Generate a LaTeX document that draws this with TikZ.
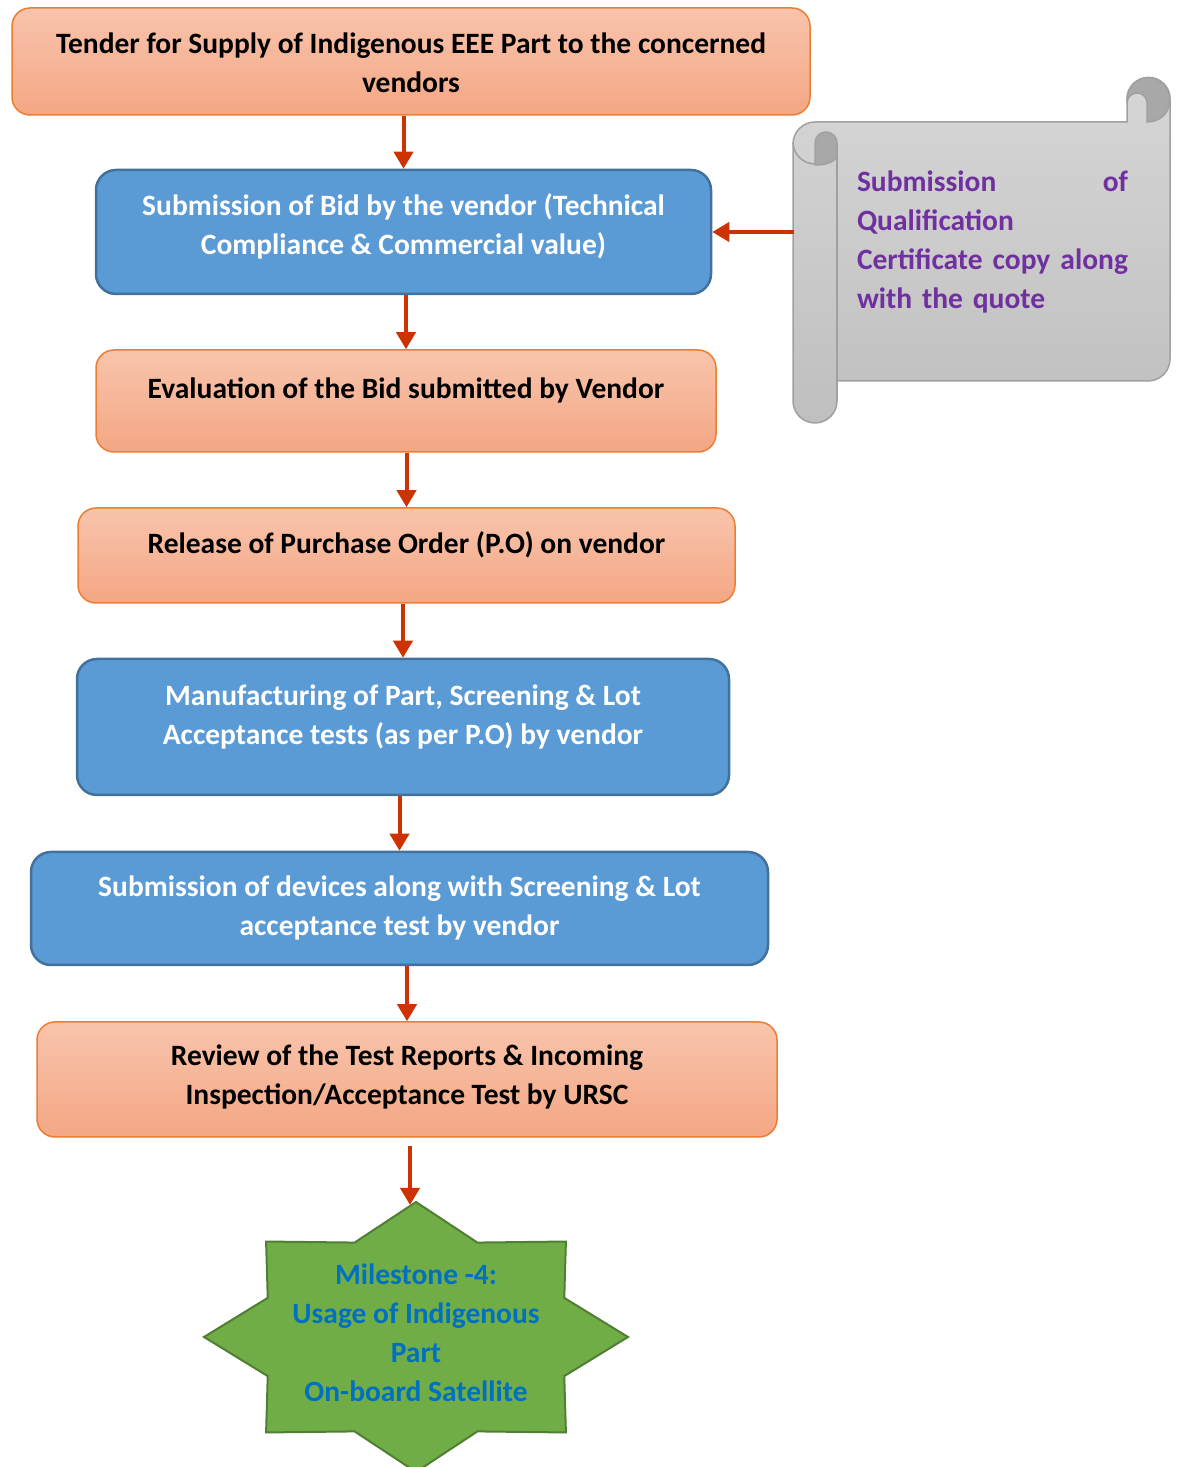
\documentclass[tikz,border=0pt]{standalone}
\usepackage{fontspec}
\setmainfont{Carlito}
\usetikzlibrary{arrows.meta}

\definecolor{orangetop}{RGB}{248,196,172}
\definecolor{orangebot}{RGB}{244,167,132}
\definecolor{orangeline}{RGB}{237,125,49}
\definecolor{bluefill}{RGB}{91,155,213}
\definecolor{blueline}{RGB}{65,113,156}
\definecolor{arrowred}{RGB}{204,51,0}
\definecolor{scrolltop}{RGB}{214,214,214}
\definecolor{scrollbot}{RGB}{191,191,191}
\definecolor{scrolldark}{RGB}{168,168,168}
\definecolor{scrollline}{RGB}{160,160,160}
\definecolor{qualpurple}{RGB}{112,48,160}
\definecolor{starfill}{RGB}{112,173,71}
\definecolor{starline}{RGB}{80,126,50}
\definecolor{starblue}{RGB}{0,112,192}

\tikzset{
  orangebox/.style={draw=orangeline, line width=1.5pt, rounded corners=18pt, top color=orangetop, bottom color=orangebot},
  bluebox/.style={draw=blueline, line width=2.5pt, rounded corners=20pt, fill=bluefill},
  boxtext/.style={align=center, font=\fontsize{29.5}{39}\selectfont\bfseries},
  flowarrow/.style={draw=arrowred, line width=4pt, -{Triangle[length=17pt,width=19pt]}},
  scrollpart/.style={draw=scrollline, line width=1.5pt},
}

\begin{document}
\begin{tikzpicture}[x=1pt,y=1pt]
\useasboundingbox (0,0) rectangle (1176,1467);

% Flow boxes
\node[orangebox, minimum width=798pt, minimum height=107pt] (tender) at (411,1405.5) {};
\node[boxtext] (tendertext) at (411,1404.5) {Tender for Supply of Indigenous EEE Part to the concerned\\vendors};

\node[bluebox, minimum width=615pt, minimum height=124pt] (bid) at (403.5,1235) {};
\node[boxtext, text=white] (bidtext) at (403.5,1241) {Submission of Bid by the vendor (Technical\\Compliance \& Commercial value)};

\node[orangebox, minimum width=620pt, minimum height=102pt] (eval) at (406,1066) {};
\node[boxtext] (evaltext) at (406,1077) {Evaluation of the Bid submitted by Vendor};

\node[orangebox, minimum width=657pt, minimum height=95pt] (release) at (406.5,911.5) {};
\node[boxtext] (releasetext) at (406.5,922) {Release of Purchase Order (P.O) on vendor};

\node[bluebox, minimum width=652pt, minimum height=136pt] (manuf) at (403,740) {};
\node[boxtext, text=white] (manuftext) at (403,750.5) {Manufacturing of Part, Screening \& Lot\\Acceptance tests (as per P.O) by vendor};

\node[bluebox, minimum width=737pt, minimum height=113pt] (devices) at (399.5,558.5) {};
\node[boxtext, text=white] (devicestext) at (399.5,559.5) {Submission of devices along with Screening \& Lot\\acceptance test by vendor};

\node[orangebox, minimum width=740pt, minimum height=115pt] (review) at (407,387.5) {};
\node[boxtext] (reviewtext) at (407,390.5) {Review of the Test Reports \& Incoming\\Inspection/Acceptance Test by URSC};

% Milestone star
\begin{scope}[shift={(416,130)}]
  \draw[draw=starline, line width=2pt, fill=starfill] (0:212 and 135)
    \foreach \k [evaluate=\k as \f using {1-0.243*mod(\k,2)}] in {1,...,15} { -- ({\k*22.5}:{212*\f} and {135*\f}) } -- cycle;
\end{scope}
\node[boxtext, text=starblue] (milestone) at (416,134) {Milestone -4:\\Usage of Indigenous\\Part\\On-board Satellite};
\coordinate (startop) at (410,262);

% Scroll
\draw[scrollpart, top color=scrolltop, bottom color=scrollbot]
  (815,1345) -- (1127,1345) -- (1127,1368) arc[start angle=180, end angle=0, radius=21.5]
  -- (1170,1108) arc[start angle=0, end angle=-90, radius=22]
  -- (837,1086) -- (837,1066) arc[start angle=0, end angle=-180, radius=22]
  -- (793,1323) arc[start angle=180, end angle=90, radius=22] -- cycle;
\draw[scrollpart, fill=scrolldark] (815,1302) -- (815,1324) arc[start angle=180, end angle=0, radius=11]
  -- (837,1313) .. controls (837,1305) and (826,1302) .. (815,1302) -- cycle;
\draw[scrollpart] (793,1325) arc[start angle=180, end angle=270, radius=22];
\draw[scrollpart] (837,1313) -- (837,1066);
\draw[scrollpart, fill=scrolldark] (1127,1368) arc[start angle=180, end angle=0, radius=21.5]
  .. controls (1170,1354) and (1160,1345) .. (1147,1345) -- (1147,1364)
  arc[start angle=0, end angle=180, radius=10] -- cycle;
\node[boxtext, text=qualpurple, align=left, text width=271pt] (qual) at (992.5,1225)
  {Submission\hfill of\\Qualification\\Certificate\hfill copy\hfill along\\with the quote};
\coordinate (scrollleft) at (794,1235);

% Arrows
\draw[flowarrow] (tender.south -| bid.north) -- (bid.north);
\draw[flowarrow] (bid.south -| eval.north) -- (eval.north);
\draw[flowarrow] (eval.south -| release.north) -- (release.north);
\draw[flowarrow] (release.south -| manuf.north) -- (manuf.north);
\draw[flowarrow] (manuf.south -| devices.north) -- (devices.north);
\draw[flowarrow] (devices.south -| review.north) -- (review.north);
\draw[flowarrow] ([yshift=-8pt]review.south -| startop) -- (startop);
\draw[flowarrow] (scrollleft) -- (bid.east);

\end{tikzpicture}
\end{document}
